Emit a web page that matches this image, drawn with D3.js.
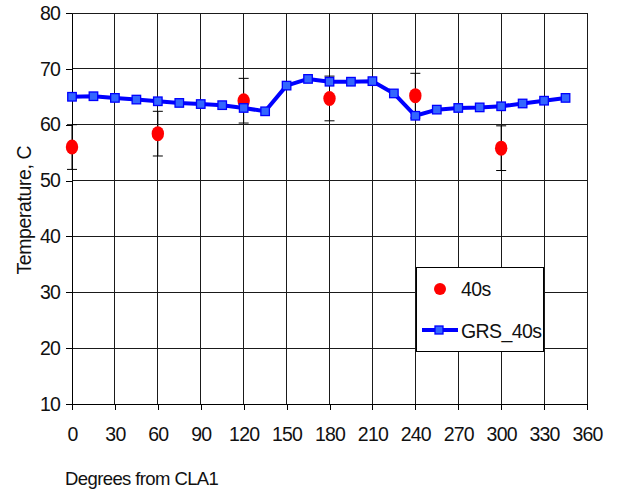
<!DOCTYPE html>
<html>
<head>
<meta charset="utf-8">
<script src="https://cdn.jsdelivr.net/npm/d3@7"></script>
<style>
  html, body { margin: 0; padding: 0; background: #fff; }
</style>
</head>
<body>
<div id="chart"></div>
<script>
// GRS_40s series (line + squares), every 15 degrees
const grsAngles = [0, 15, 30, 45, 60, 75, 90, 105, 120, 135, 150, 165,
  180, 195, 210, 225, 240, 255, 270, 285, 300, 315, 330, 345];
const grsTemps = [65.0, 65.1, 64.8, 64.5, 64.2, 63.9, 63.7, 63.5, 63.0, 62.4, 67.0, 68.2,
  67.7, 67.7, 67.8, 65.6, 61.6, 62.7, 63.0, 63.1, 63.3, 63.8, 64.3, 64.8];

// 40s measurements (red dots with error bars)
const obsAngles = [0, 60, 120, 180, 240, 300];
const obsTemps = [56.0, 58.4, 64.3, 64.7, 65.2, 55.8];
const obsErrors = [4.0, 4.0, 4.0, 4.0, 4.0, 4.0];

const xTickValues = [0, 30, 60, 90, 120, 150, 180, 210, 240, 270, 300, 330, 360];
const yTickValues = [10, 20, 30, 40, 50, 60, 70, 80];

const seriesNames = ["40s", "GRS_40s"];

class Chart {
  constructor() {
    const attrs = {
      container: "#chart",
      svgWidth: 624,
      svgHeight: 497,
      marginTop: 13,
      marginLeft: 72,
      marginRight: 37,
      marginBottom: 93,
      defaultFont: "Liberation Sans, Arial, sans-serif",
      gridColor: "#1a1a1a",
      lineColor: "#0000ff",
      markerFill: "#3366ff",
      dotColor: "#ff0000"
    };
    this.getState = () => attrs;
    this.setState = (d) => Object.assign(attrs, d);
  }

  render() {
    this.calculateProperties();
    this.drawSvgAndWrappers();
    this.drawAxes();
    this.drawSeries();
    this.drawLegend();
    return this;
  }

  calculateProperties() {
    const { svgWidth, svgHeight, marginTop, marginLeft, marginRight, marginBottom } = this.getState();
    const chartWidth = svgWidth - marginLeft - marginRight;
    const chartHeight = svgHeight - marginTop - marginBottom;
    const x = d3.scaleLinear().domain([0, 360]).range([0, chartWidth]);
    const y = d3.scaleLinear().domain([10, 80]).range([chartHeight, 0]);
    this.setState({ chartWidth, chartHeight, x, y });
  }

  drawSvgAndWrappers() {
    const { container, svgWidth, svgHeight, defaultFont, marginLeft, marginTop } = this.getState();
    const svg = d3.select(container).append("svg")
      .attr("width", svgWidth)
      .attr("height", svgHeight)
      .attr("font-family", defaultFont);
    const chart = svg.append("g")
      .attr("transform", `translate(${marginLeft},${marginTop})`);
    this.setState({ svg, chart });
  }

  drawAxes() {
    const { chart, svg, x, y, chartWidth, chartHeight, gridColor, marginTop } = this.getState();

    // grid lines
    chart.append("g").selectAll("line.vgrid")
      .data(xTickValues)
      .join("line")
      .attr("class", "vgrid")
      .attr("x1", d => x(d)).attr("x2", d => x(d))
      .attr("y1", 0).attr("y2", chartHeight)
      .attr("stroke", gridColor).attr("stroke-width", 1)
      .attr("shape-rendering", "crispEdges");

    chart.append("g").selectAll("line.hgrid")
      .data(yTickValues)
      .join("line")
      .attr("class", "hgrid")
      .attr("x1", 0).attr("x2", chartWidth)
      .attr("y1", d => y(d)).attr("y2", d => y(d))
      .attr("stroke", gridColor).attr("stroke-width", 1)
      .attr("shape-rendering", "crispEdges");

    const xAxis = chart.append("g")
      .attr("transform", `translate(0,${chartHeight})`)
      .call(d3.axisBottom(x).tickValues(xTickValues).tickSize(6).tickPadding(17).tickSizeOuter(0));

    const yAxis = chart.append("g")
      .call(d3.axisLeft(y).tickValues(yTickValues).tickSize(6).tickPadding(6).tickSizeOuter(0));

    [xAxis, yAxis].forEach(g => {
      g.select(".domain").attr("stroke", "#000").attr("shape-rendering", "crispEdges");
      g.selectAll(".tick line").attr("stroke", "#000").attr("shape-rendering", "crispEdges");
      g.selectAll(".tick text")
        .attr("fill", "#111")
        .attr("font-size", 19.5)
        .attr("letter-spacing", -0.8)
        .attr("font-family", "Liberation Sans, Arial, sans-serif");
    });

    // axis titles
    svg.append("text")
      .attr("x", 65)
      .attr("y", 485)
      .attr("font-size", 18.5)
      .attr("letter-spacing", -0.6)
      .attr("fill", "#111")
      .text("Degrees from CLA1");

    svg.append("text")
      .attr("transform", `translate(31,${marginTop + y(44.7)}) rotate(-90)`)
      .attr("text-anchor", "middle")
      .attr("font-size", 19.5)
      .attr("letter-spacing", -0.4)
      .attr("fill", "#111")
      .text("Temperature, C");
  }

  drawSeries() {
    const { chart, x, y, lineColor, markerFill, dotColor } = this.getState();

    const obs = obsAngles.map((a, i) => ({ a, t: obsTemps[i], e: obsErrors[i] }));
    const grs = grsAngles.map((a, i) => ({ a, t: grsTemps[i] }));

    // error bars
    const eb = chart.append("g").selectAll("g.err")
      .data(obs)
      .join("g")
      .attr("class", "err")
      .attr("stroke", "#000")
      .attr("stroke-width", 1);
    eb.append("line")
      .attr("x1", d => x(d.a)).attr("x2", d => x(d.a))
      .attr("y1", d => y(d.t - d.e)).attr("y2", d => y(d.t + d.e));
    eb.append("line")
      .attr("x1", d => x(d.a) - 5).attr("x2", d => x(d.a) + 5)
      .attr("y1", d => y(d.t + d.e)).attr("y2", d => y(d.t + d.e));
    eb.append("line")
      .attr("x1", d => x(d.a) - 5).attr("x2", d => x(d.a) + 5)
      .attr("y1", d => y(d.t - d.e)).attr("y2", d => y(d.t - d.e));

    // red dots
    chart.append("g").selectAll("ellipse.dot")
      .data(obs)
      .join("ellipse")
      .attr("class", "dot")
      .attr("cx", d => x(d.a))
      .attr("cy", d => y(d.t))
      .attr("rx", 6.2)
      .attr("ry", 7.5)
      .attr("fill", dotColor);

    // GRS line
    const line = d3.line().x(d => x(d.a)).y(d => y(d.t));
    chart.append("path")
      .datum(grs)
      .attr("d", line)
      .attr("fill", "none")
      .attr("stroke", lineColor)
      .attr("stroke-width", 4)
      .attr("stroke-linejoin", "round");

    chart.append("g").selectAll("rect.marker")
      .data(grs)
      .join("rect")
      .attr("class", "marker")
      .attr("x", d => x(d.a) - 4.25)
      .attr("y", d => y(d.t) - 4.25)
      .attr("width", 8.5)
      .attr("height", 8.5)
      .attr("fill", markerFill)
      .attr("stroke", lineColor)
      .attr("stroke-width", 1.3);
  }

  drawLegend() {
    const { svg, lineColor, markerFill, dotColor } = this.getState();
    const lg = svg.append("g").attr("transform", "translate(416,267)");

    lg.append("rect")
      .attr("width", 127).attr("height", 84)
      .attr("fill", "#fff")
      .attr("stroke", "#000").attr("stroke-width", 1)
      .attr("shape-rendering", "crispEdges");

    lg.append("circle")
      .attr("cx", 24).attr("cy", 22).attr("r", 6)
      .attr("fill", dotColor);

    lg.append("line")
      .attr("x1", 6).attr("x2", 42).attr("y1", 63).attr("y2", 63)
      .attr("stroke", lineColor).attr("stroke-width", 4);
    lg.append("rect")
      .attr("x", 19).attr("y", 59).attr("width", 8).attr("height", 8)
      .attr("fill", markerFill).attr("stroke", lineColor).attr("stroke-width", 1.3);

    lg.selectAll("text.legend")
      .data(seriesNames)
      .join("text")
      .attr("class", "legend")
      .attr("x", 45)
      .attr("y", (d, i) => 29 + i * 42)
      .attr("font-size", 19.5)
      .attr("letter-spacing", -0.6)
      .attr("fill", "#111")
      .text(d => d);
  }
}

new Chart().render();
</script>
</body>
</html>
